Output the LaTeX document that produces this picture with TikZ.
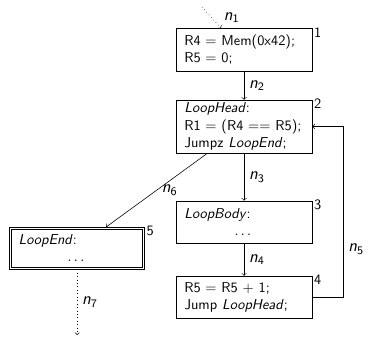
\documentclass[tikz,border=0pt]{standalone}
\usepackage{amsmath}
\usepackage{tikz}
\usetikzlibrary{arrows,fit}
\tikzset{
	block/.style={draw, rectangle, align=left, text width=2.93cm, inner xsep=0.2cm, inner ysep=2pt, minimum height=1.03cm},
	endblock/.style={block, minimum height=0.92cm, text width=2.87cm, inner xsep=0.17cm},
	flow/.style={->},
	dotflow/.style={->, dotted},
	num/.style={anchor=north west, inner sep=1pt, yshift=2pt},
	lbl/.style={font=\sffamily\large},
}
\newcommand{\edgelbl}[1]{\textit{n}\textsubscript{#1}}

\begin{document}
\begin{tikzpicture}[font=\sffamily]
				\useasboundingbox (0,0) rectangle (9.09,8.28);
				% blocks
				\node[block, label={[num]north east:1}] (init) at (5.98,7.06) {R4 $=$ Mem(0x42);\\R5 $=$ 0;};
				\node[block, label={[num]north east:2}] (head) at (5.98,5.18) {\textit{LoopHead}:\\R1 $=$ (R4 $==$ R5);\\Jumpz \textit{LoopEnd};};
				\node[block, label={[num]north east:3}] (body) at (5.98,2.84) {\textit{LoopBody}:\\\hspace*{\fill}$\dots$\hspace*{\fill}\null};
				\node[block, label={[num]north east:4}] (incr) at (5.98,1.00) {R5 $=$ R5 $+$ 1;\\Jump \textit{LoopHead};};
				\node[endblock] (exit) at (1.89,2.20) {\textit{LoopEnd}:\\\hspace*{\fill}$\dots$\hspace*{\fill}\null};
				\node[draw, fit=(exit), inner sep=1.2pt, label={[num]north east:5}] (exitbox) {};
				\coordinate (entry) at (4.95,8.11);
				\coordinate (out) at (1.89,0.07);
				% edges
				\draw[dotflow] (entry) -- node[lbl, pos=0.5, right=5pt] {\edgelbl{1}} ([xshift=-5.6mm]init.north);
				\draw[flow] (init) -- node[lbl, right] {\edgelbl{2}} (head);
				\draw[flow] (head) -- node[lbl, right] {\edgelbl{3}} (body);
				\draw[flow] (body) -- node[lbl, right] {\edgelbl{4}} (incr);
				\draw[flow] (incr.east) -- ++(0.76,0) |- node[lbl, pos=0.14, right] {\edgelbl{5}} (head.east);
				\draw[flow] (head) -- node[lbl, right] {\edgelbl{6}} (exitbox);
				\draw[dotflow] (exitbox) -- node[lbl, right] {\edgelbl{7}} (out);
			\end{tikzpicture}
\end{document}
